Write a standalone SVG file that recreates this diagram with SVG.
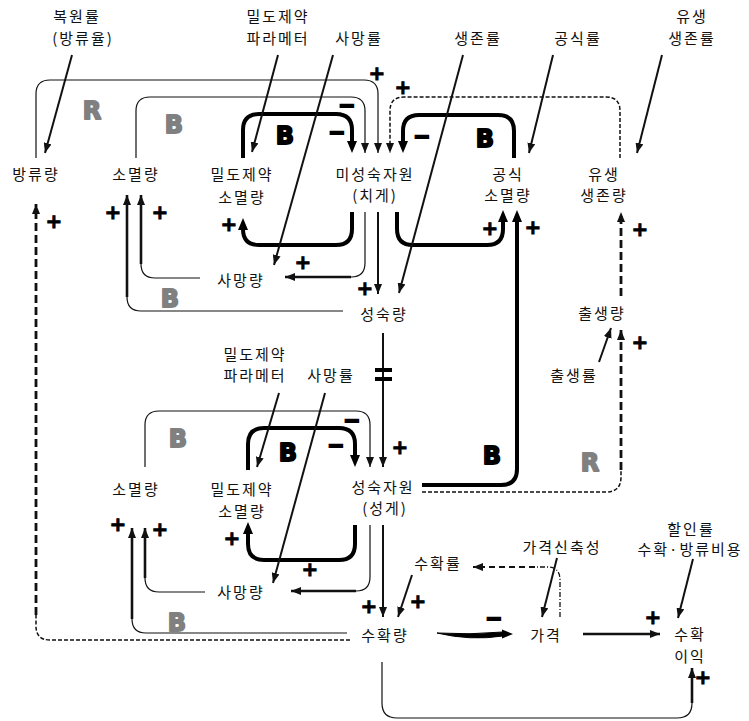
<svg xmlns="http://www.w3.org/2000/svg" width="749" height="721" viewBox="0 0 749 721">
<style>
.t{font-family:"Noto Sans CJK KR","Noto Sans",sans-serif;font-size:15px;letter-spacing:2px;text-anchor:middle;fill:#111}
.thin{fill:none;stroke:#111;stroke-width:1.2}
.med{fill:none;stroke:#111;stroke-width:2}
.mk{fill:none;stroke:#111;stroke-width:2.6}
.thick{fill:none;stroke:#000;stroke-width:4}
.dash{fill:none;stroke:#111;stroke-width:1.5;stroke-dasharray:4 2}
.dashT{fill:none;stroke:#111;stroke-width:2.8;stroke-dasharray:8 4}
.sg{font-family:"DejaVu Sans",sans-serif;font-weight:bold;font-size:20px;text-anchor:middle;fill:#000;stroke:#000;stroke-width:0.8}
.mn{stroke-width:2}
.lb{font-family:"DejaVu Sans",sans-serif;font-weight:900;font-size:24px;text-anchor:middle;stroke-width:1.8;stroke-linejoin:round}
.grey{fill:#808080;stroke:#808080}
.blk{fill:#000;stroke:#000}
</style>
<defs>
<marker id="a" markerUnits="userSpaceOnUse" markerWidth="10" markerHeight="8" refX="10" refY="4" orient="auto"><path d="M0,0 L10,4 L0,8z" fill="#111"/></marker>
<marker id="ak" markerUnits="userSpaceOnUse" markerWidth="12" markerHeight="10" refX="2" refY="5" orient="auto"><path d="M0,0 L12,5 L0,10z" fill="#000"/></marker>
</defs>
<rect width="749" height="721" fill="#fff"/>

<g id="connectors">
<path class="thin" d="M36,158 V94 Q36,80 50,80 H364 Q378,80 378,94 V153" marker-end="url(#a)"/>
<path class="thin" d="M136,158 V111 Q136,97 150,97 H351 Q365,97 365,111 V153" marker-end="url(#a)"/>
<path class="thick" d="M243,158 V130 Q243,114 259,114 H336 Q352,114 352,130 V143" marker-end="url(#ak)"/>
<path class="dash" d="M620,158 V111 Q620,97 606,97 H404 Q390,97 390,111 V153" marker-end="url(#a)"/>
<path class="thick" d="M514,158 V131 Q514,115 498,115 H419 Q403,115 403,131 V143" marker-end="url(#ak)"/>
<path class="thick" d="M352,212 V229 Q352,245 336,245 H259 Q243,245 243,229 V228" marker-end="url(#ak)"/>
<path class="thin" d="M365,212 V263 Q365,277 351,277"/>
<path class="mk" d="M351,277 H285" marker-end="url(#a)"/>
<path class="med" d="M378,212 V294" marker-end="url(#a)"/>
<path class="thick" d="M397,212 V229 Q397,245 413,245 H487 Q503,245 503,229 V220" marker-end="url(#ak)"/>
<path class="thick" d="M422,485 H501 Q517,485 517,469 V220" marker-end="url(#ak)"/>
<path class="dash" d="M422,492 H606 Q621,492 621,477 V470"/>
<path class="dashT" d="M621,470 V330" marker-end="url(#a)"/>
<path class="dashT" d="M621,296 V212" marker-end="url(#a)"/>
<path class="med" d="M599,362 L611,328" marker-end="url(#a)"/>
<path class="dash" d="M350,640 H50 Q36,640 36,626 V615"/>
<path class="dashT" d="M36,615 V204" marker-end="url(#a)"/>
<path class="thin" d="M200,278 H155 Q141,278 141,264"/>
<path class="mk" d="M141,264 V195" marker-end="url(#a)"/>
<path class="thin" d="M343,311 H141 Q127,311 127,297"/>
<path class="mk" d="M127,297 V195" marker-end="url(#a)"/>
<path class="med" d="M72,55 L45,153" marker-end="url(#a)"/>
<path class="med" d="M278,55 L252,152" marker-end="url(#a)"/>
<path class="med" d="M333,55 L274,265" marker-end="url(#a)"/>
<path class="med" d="M463,55 L399,293" marker-end="url(#a)"/>
<path class="med" d="M553,55 L529,153" marker-end="url(#a)"/>
<path class="med" d="M662,55 L637,153" marker-end="url(#a)"/>
<path class="med" d="M383,333 V467" marker-end="url(#a)"/>
<path d="M375,370 H392 M375,379 H392" stroke="#000" stroke-width="4" fill="none"/>
<path class="thin" d="M145,467 V425 Q145,411 159,411 H356 Q370,411 370,425 V467" marker-end="url(#a)"/>
<path class="thick" d="M248,470 V444 Q248,428 264,428 H339 Q355,428 355,444 V457" marker-end="url(#ak)"/>
<path class="thick" d="M355,525 V544 Q355,560 339,560 H264 Q248,560 248,544 V532" marker-end="url(#ak)"/>
<path class="thin" d="M370,525 V577 Q370,591 356,591"/>
<path class="mk" d="M356,591 H291" marker-end="url(#a)"/>
<path class="thin" d="M205,592 H159 Q145,592 145,578"/>
<path class="mk" d="M145,578 V528" marker-end="url(#a)"/>
<path class="thin" d="M347,633 H146 Q132,633 132,619"/>
<path class="mk" d="M132,619 V528" marker-end="url(#a)"/>
<path class="med" d="M325,393 L273,583" marker-end="url(#a)"/>
<path class="med" d="M279,393 L257,467" marker-end="url(#a)"/>
<path class="med" d="M383,525 V617" marker-end="url(#a)"/>
<path class="med" d="M412,575 L398,617" marker-end="url(#a)"/>
<path d="M437,633 Q470,641 503,636 L503,632 Q470,635 437,633z" fill="#000" stroke="#000" stroke-width="1"/>
<path d="M502,629.5 L513,634 L502,638.5z" fill="#000"/>
<path class="mk" d="M583,634 H660" marker-end="url(#a)"/>
<path fill="none" stroke="#111" stroke-width="1.3" stroke-dasharray="5 2 1 2" d="M560,617 V580 Q560,567 547,567 H535"/>
<path fill="none" stroke="#111" stroke-width="2.2" stroke-dasharray="6 4" d="M535,567 H473" marker-end="url(#a)"/>
<path class="med" d="M557,558 L542,617" marker-end="url(#a)"/>
<path class="med" d="M693,559 L678,618" marker-end="url(#a)"/>
<path class="thin" d="M382,662 V703 Q382,718 397,718 H677 Q692,718 692,703"/>
<path class="mk" d="M692,703 V668" marker-end="url(#a)"/>
</g>

<g id="polarity">
<text class="sg" x="377" y="80">+</text>
<text class="sg" x="403" y="94">+</text>
<text class="sg" x="229" y="231">+</text>
<text class="sg" x="303" y="269">+</text>
<text class="sg" x="365" y="295">+</text>
<text class="sg" x="490" y="235">+</text>
<text class="sg" x="533" y="234">+</text>
<text class="sg" x="640" y="236">+</text>
<text class="sg" x="54" y="228">+</text>
<text class="sg" x="113" y="219">+</text>
<text class="sg" x="160" y="219">+</text>
<text class="sg" x="640" y="349">+</text>
<text class="sg" x="400" y="454">+</text>
<text class="sg" x="232" y="545">+</text>
<text class="sg" x="310" y="576">+</text>
<text class="sg" x="160" y="536">+</text>
<text class="sg" x="118" y="531">+</text>
<text class="sg" x="369" y="613">+</text>
<text class="sg" x="418" y="608">+</text>
<text class="sg" x="653" y="624">+</text>
<text class="sg" x="703" y="684">+</text>
<text class="sg mn" x="347" y="112">−</text>
<text class="sg mn" x="337" y="139">−</text>
<text class="sg mn" x="422" y="143">−</text>
<text class="sg mn" x="352" y="427">−</text>
<text class="sg mn" x="336" y="452">−</text>
<text class="sg mn" x="494" y="625">−</text>
</g>

<g id="loop-labels">
<text class="lb grey" x="92" y="119">R</text>
<text class="lb grey" x="174" y="133">B</text>
<text class="lb blk" x="285" y="144">B</text>
<text class="lb blk" x="485" y="147">B</text>
<text class="lb grey" x="170" y="307">B</text>
<text class="lb grey" x="178" y="447">B</text>
<text class="lb blk" x="288" y="461">B</text>
<text class="lb blk" x="492" y="464">B</text>
<text class="lb grey" x="590" y="471">R</text>
<text class="lb grey" x="177" y="631">B</text>
</g>

<g id="n-recovery-rate"><text class="t" x="77" y="22">복원률</text><text class="t" x="83" y="44">(방류율)</text></g>
<g id="n-density-param-top"><text class="t" x="278" y="22">밀도제약</text><text class="t" x="278" y="44">파라메터</text></g>
<g id="n-death-rate-top"><text class="t" x="359" y="44">사망률</text></g>
<g id="n-survival-rate"><text class="t" x="478" y="44">생존률</text></g>
<g id="n-predation-rate"><text class="t" x="578" y="44">공식률</text></g>
<g id="n-larva-survival-rate"><text class="t" x="692" y="22">유생</text><text class="t" x="692" y="44">생존률</text></g>
<g id="n-release"><text class="t" x="36" y="180">방류량</text></g>
<g id="n-loss-top"><text class="t" x="136" y="180">소멸량</text></g>
<g id="n-density-loss-top"><text class="t" x="242" y="180">밀도제약</text><text class="t" x="242" y="203">소멸량</text></g>
<g id="n-juvenile"><text class="t" x="375" y="180">미성숙자원</text><text class="t" x="375" y="201">(치게)</text></g>
<g id="n-predation-loss"><text class="t" x="508" y="180">공식</text><text class="t" x="508" y="201">소멸량</text></g>
<g id="n-larva-survival"><text class="t" x="604" y="180">유생</text><text class="t" x="604" y="201">생존량</text></g>
<g id="n-death-top"><text class="t" x="241" y="286">사망량</text></g>
<g id="n-maturation"><text class="t" x="384" y="320">성숙량</text></g>
<g id="n-births"><text class="t" x="602" y="319">출생량</text></g>
<g id="n-birth-rate"><text class="t" x="574" y="381">출생률</text></g>
<g id="n-density-param-mid"><text class="t" x="255" y="360">밀도제약</text><text class="t" x="255" y="381">파라메터</text></g>
<g id="n-death-rate-mid"><text class="t" x="331" y="381">사망률</text></g>
<g id="n-loss-mid"><text class="t" x="136" y="495">소멸량</text></g>
<g id="n-density-loss-mid"><text class="t" x="242" y="495">밀도제약</text><text class="t" x="242" y="517">소멸량</text></g>
<g id="n-adult"><text class="t" x="383" y="493">성숙자원</text><text class="t" x="385" y="514">(성게)</text></g>
<g id="n-death-mid"><text class="t" x="241" y="598">사망량</text></g>
<g id="n-harvest-rate"><text class="t" x="438" y="569">수확률</text></g>
<g id="n-price-elasticity"><text class="t" x="562" y="553">가격신축성</text></g>
<g id="n-discount"><text class="t" x="691" y="535">할인률</text><text class="t" x="690" y="555">수확·방류비용</text></g>
<g id="n-harvest"><text class="t" x="385" y="641">수확량</text></g>
<g id="n-price"><text class="t" x="546" y="641">가격</text></g>
<g id="n-profit"><text class="t" x="690" y="640">수확</text><text class="t" x="690" y="662">이익</text></g>
</svg>
